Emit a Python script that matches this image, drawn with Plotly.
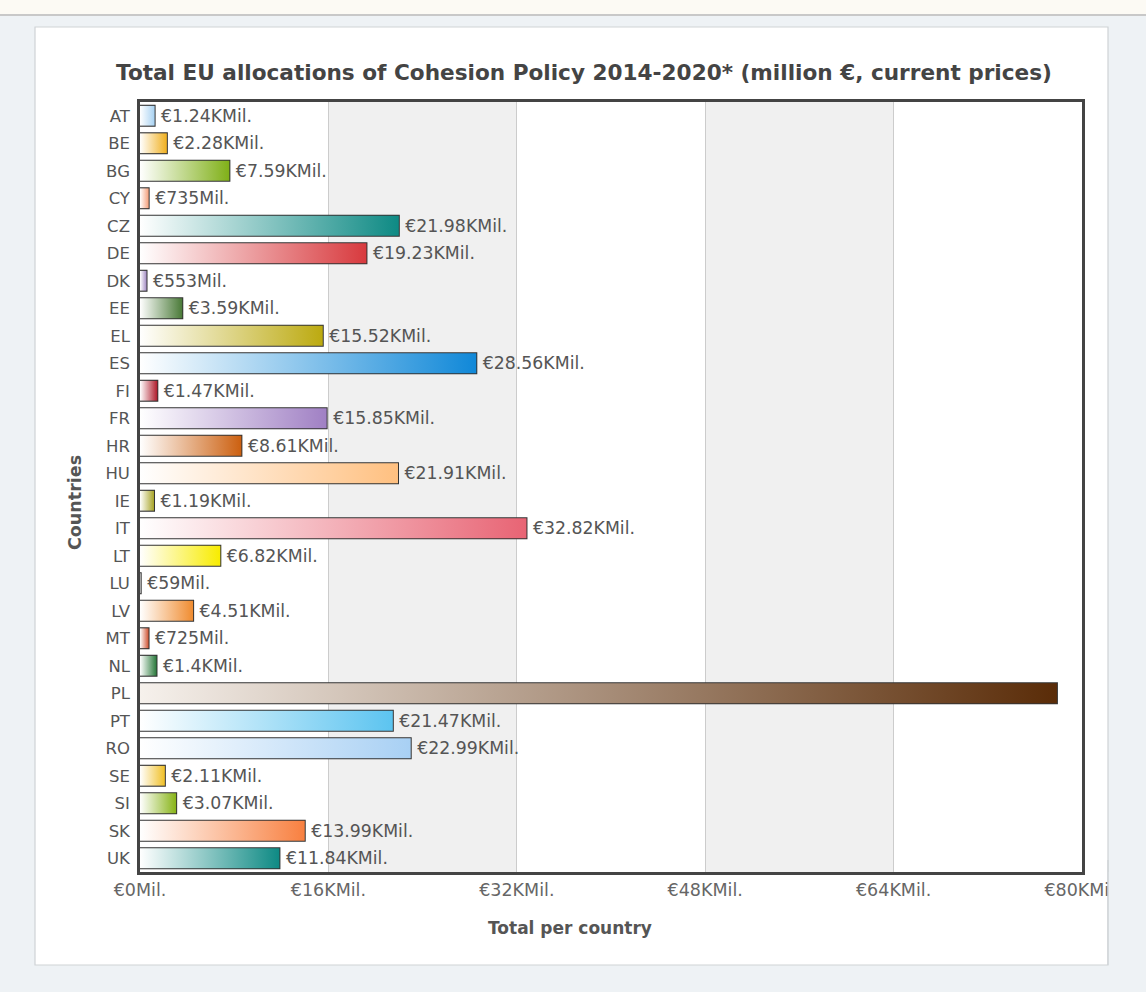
import plotly.graph_objects as go

countries = ["AT", "BE", "BG", "CY", "CZ", "DE", "DK", "EE", "EL", "ES", "FI", "FR", "HR", "HU",
             "IE", "IT", "LT", "LU", "LV", "MT", "NL", "PL", "PT", "RO", "SE", "SI", "SK", "UK"]
values = [1240, 2280, 7590, 735, 21980, 19230, 553, 3590, 15520, 28560, 1470, 15850, 8610, 21910,
          1190, 32820, 6820, 59, 4510, 725, 1400, 77870, 21470, 22990, 2110, 3070, 13990, 11840]
end_colors = ["#a8d2f2", "#f0b020", "#80b018", "#f4a07c", "#0e8a84", "#d83a3e", "#a48cc4", "#4a7a38",
              "#bcaa10", "#1088d8", "#b01c2c", "#a080c4", "#cc6010", "#ffc080",
              "#a8a428", "#e86474", "#f8ec00", "#cccccc", "#f08c30", "#d05434", "#2a7a3c", "#5a2c08",
              "#5cc4f0", "#a8d0f4", "#f0c028", "#88b418", "#f88040", "#0e8a84"]
start_colors = ["#ffffff"] * len(countries)
start_colors[countries.index("PL")] = "#f6f1ec"
x_ticks = [0, 16000, 32000, 48000, 64000, 80000]
x_tick_text = ["€0Mil.", "€16KMil.", "€32KMil.", "€48KMil.", "€64KMil.", "€80KMil."]


def fmt(v):
    if v < 1000:
        return f"€{v}Mil."
    s = f"{v / 1000:.2f}".rstrip("0").rstrip(".")
    return f"€{s}KMil."


labels = ["\u2009" + fmt(v) for v in values]
labels[countries.index("PL")] = "€77KMil."

idx = list(range(len(countries)))
half = 0.36
FONT = "DejaVu Sans, Verdana, sans-serif"
W, H = 1146, 992
L, R, T, B = 140, 1082, 102, 872
PW, PH = R - L, B - T


def px(xp):
    return (xp - L) / PW


def py(yp):
    return (B - yp) / PH


fig = go.Figure()

# gradient fills
for i, (c, v) in enumerate(zip(countries, values)):
    fig.add_trace(go.Scatter(
        x=[0, v, v, 0, 0],
        y=[i - half, i - half, i + half, i + half, i - half],
        mode="lines", line=dict(width=0), fill="toself",
        fillgradient=dict(type="horizontal",
                          colorscale=[[0, start_colors[i]], [1, end_colors[i]]]),
        hoverinfo="skip", showlegend=False))

text_pos = ["inside" if c == "PL" else "outside" for c in countries]
text_col = ["#6a4020" if c == "PL" else "#555555" for c in countries]

fig.add_trace(go.Bar(
    x=values, y=idx, orientation="h", width=2 * half,
    marker=dict(color="rgba(0,0,0,0)", line=dict(color="#333333", width=2)),
    text=labels, textposition=text_pos, insidetextanchor="end",
    textfont=dict(family=FONT, size=17.5, color=text_col),
    cliponaxis=False, showlegend=False, hoverinfo="x+y"))

BG = "#eef2f5"
shapes = [
    # top strip
    dict(type="rect", xref="paper", yref="paper", x0=px(-20), x1=px(W + 20), y0=py(15), y1=py(-20),
         fillcolor="#fcfaf4", line=dict(width=0), layer="below"),
    dict(type="line", xref="paper", yref="paper",
         x0=px(-20), x1=px(W + 20), y0=py(15), y1=py(15),
         line=dict(color="#c8c8c8", width=2), layer="below"),
    # white card
    dict(type="rect", xref="paper", yref="paper",
         x0=px(35), x1=px(1108), y0=py(965), y1=py(27),
         fillcolor="white", line=dict(color="#cfd3d6", width=1.2), layer="below"),
    # clip of right tick label by the card edge
    dict(type="rect", xref="paper", yref="paper",
         x0=px(1108.6), x1=px(W + 20), y0=py(965), y1=py(872),
         fillcolor=BG, line=dict(width=0), layer="above"),
    dict(type="line", xref="paper", yref="paper",
         x0=px(1108), x1=px(1108), y0=py(965), y1=py(860),
         line=dict(color="#cfd3d6", width=1.2), layer="above"),
]
for a, b in [(16000, 32000), (48000, 64000)]:
    shapes.append(dict(type="rect", xref="x", yref="paper", x0=a, x1=b, y0=0, y1=1,
                       fillcolor="#f0f0f0", line=dict(width=0), layer="below"))

annotations = [
    dict(text="<b>Total per country</b>", xref="paper", yref="paper",
         x=px(570), y=py(928), xanchor="center", yanchor="middle", showarrow=False,
         font=dict(family=FONT, size=17, color="#555555")),
    dict(text="<b>Countries</b>", xref="paper", yref="paper", textangle=-90,
         x=px(75), y=py(503), xanchor="center", yanchor="middle", showarrow=False,
         font=dict(family=FONT, size=17.5, color="#555555")),
]

fig.update_layout(
    width=W, height=H,
    paper_bgcolor=BG, plot_bgcolor="rgba(0,0,0,0)",
    margin=dict(l=L, r=W - R, t=T, b=H - B),
    shapes=shapes, annotations=annotations,
    title=dict(text="<b>Total EU allocations of Cohesion Policy 2014-2020* (million €, current prices)</b>",
               x=584 / W, xanchor="center", y=1 - 72 / H, yanchor="middle",
               font=dict(family="DejaVu Sans, sans-serif", size=21.6, color="#444444")),
    xaxis=dict(range=[0, 80000], tickvals=x_ticks, ticktext=x_tick_text,
               showgrid=True, gridcolor="#cccccc", gridwidth=1, zeroline=False,
               showline=True, mirror=True, linecolor="#444444", linewidth=2.5,
               tickfont=dict(family=FONT, size=17.5, color="#666666"), ticks="", ticklabelstandoff=0),
    yaxis=dict(range=[len(countries) - 0.5, -0.5], tickvals=idx, ticktext=countries,
               showgrid=False, zeroline=False,
               showline=True, mirror=True, linecolor="#444444", linewidth=2.5,
               tickfont=dict(family=FONT, size=16.5, color="#555555"), ticks="", ticklabelstandoff=4),
    font=dict(family=FONT),
)

fig.write_html("out.html")
